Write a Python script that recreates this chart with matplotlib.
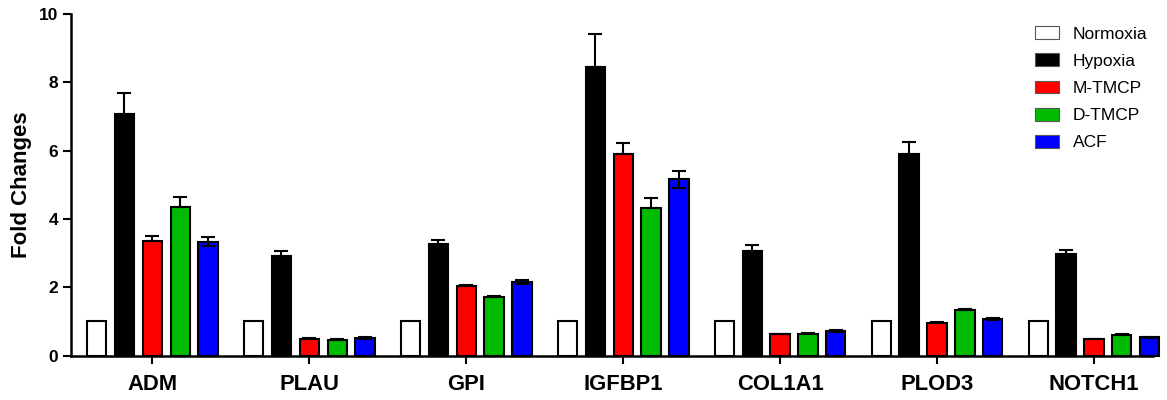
import numpy as np
import matplotlib
matplotlib.use("Agg")
import matplotlib.pyplot as plt

plt.rcParams['font.family'] = ['Liberation Sans', 'DejaVu Sans']

genes = ["ADM", "PLAU", "GPI", "IGFBP1", "COL1A1", "PLOD3", "NOTCH1"]
groups = ["Normoxia", "Hypoxia", "M-TMCP", "D-TMCP", "ACF"]
colors = ["white", "black", "#ff0000", "#00bb00", "#0000ff"]

normoxia = [1.0, 1.0, 1.0, 1.0, 1.0, 1.0, 1.0]
hypoxia = [7.07, 2.92, 3.26, 8.46, 3.07, 5.89, 2.97]
m_tmcp = [3.36, 0.50, 2.04, 5.89, 0.62, 0.96, 0.48]
d_tmcp = [4.36, 0.47, 1.72, 4.32, 0.64, 1.33, 0.61]
acf = [3.33, 0.51, 2.15, 5.16, 0.72, 1.07, 0.53]

normoxia_err = [0, 0, 0, 0, 0, 0, 0]
hypoxia_err = [0.61, 0.15, 0.12, 0.95, 0.17, 0.35, 0.12]
m_tmcp_err = [0.13, 0.02, 0.03, 0.32, 0.02, 0.02, 0.02]
d_tmcp_err = [0.29, 0.02, 0.02, 0.30, 0.02, 0.02, 0.02]
acf_err = [0.13, 0.02, 0.06, 0.24, 0.02, 0.02, 0.02]

values = [normoxia, hypoxia, m_tmcp, d_tmcp, acf]
errors = [normoxia_err, hypoxia_err, m_tmcp_err, d_tmcp_err, acf_err]

fig = plt.figure(figsize=(11.67, 4.0), dpi=100)
ax = fig.add_axes([0.061, 0.111, 0.927, 0.854])

x = np.arange(len(genes))
step = 0.178
width = 0.122
for i, (name, vals, errs, c) in enumerate(zip(groups, values, errors, colors)):
    pos = x + (i - 2) * step
    if name == "ACF":
        yerr = [errs, errs]
    else:
        yerr = [np.zeros(len(errs)), errs]
    ax.bar(pos, vals, width, color=c, edgecolor="black", linewidth=1.5,
           label=name, clip_on=False, zorder=2)
    if name != "Normoxia":
        ax.errorbar(pos, vals, yerr=yerr, fmt="none", ecolor="black",
                    elinewidth=1.5, capsize=5, capthick=1.5, zorder=3, clip_on=False)

ax.set_xlim(-0.516, 6.376)
ax.set_ylim(0, 10)
ax.set_yticks([0, 2, 4, 6, 8, 10])
ax.set_xticks(x)
ax.set_xticklabels(genes, fontsize=15.8, fontweight="bold")
ax.set_ylabel("Fold Changes", fontsize=16, fontweight="bold", labelpad=5)
for lab in ax.get_yticklabels():
    lab.set_fontweight("bold")
    lab.set_fontsize(12.5)
ax.tick_params(axis="both", direction="out", width=1.5, length=6)
ax.tick_params(axis="x", length=6, pad=7)
ax.spines["top"].set_visible(False)
ax.spines["right"].set_visible(False)
ax.spines["left"].set_linewidth(1.8)
ax.spines["bottom"].set_linewidth(1.8)

leg = ax.legend(loc="upper right", bbox_to_anchor=(1.006, 1.0), frameon=False,
                fontsize=12.5, handlelength=1.4, handleheight=0.75,
                labelspacing=0.68, handletextpad=0.8, borderaxespad=0.3)
for h in leg.legend_handles:
    h.set_linewidth(0.8)
    h.set_edgecolor("#555555")

fig.savefig("out.png", dpi=100)
